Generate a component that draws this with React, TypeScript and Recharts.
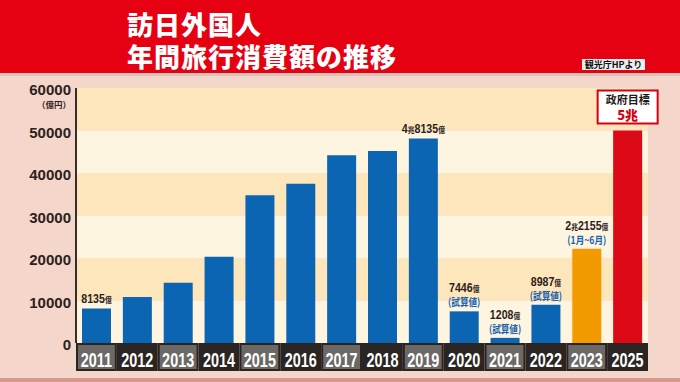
import React from 'react';
import { ComposedChart, Bar, XAxis, YAxis, ReferenceArea, Cell } from 'recharts';

// ---- data ----
const years = ['2011', '2012', '2013', '2014', '2015', '2016', '2017', '2018', '2019', '2020', '2021', '2022', '2023', '2025'];
const spending = [8135, 10846, 14167, 20278, 34771, 37476, 44162, 45189, 48135, 7446, 1208, 8987, 22155, 50000];
const valueLabels = ['8135億', '', '', '', '', '', '', '', '4兆8135億', '7446億', '1208億', '8987億', '2兆2155億', ''];
const noteLabels = ['', '', '', '', '', '', '', '', '', '(試算値)', '(試算値)', '(試算値)', '(1月~6月)', ''];
const yTicks = [0, 10000, 20000, 30000, 40000, 50000, 60000];
const yUnit = '（億円）';
const goalTitle = '政府目標';
const goalValue = '5兆';
const titleLines = ['訪日外国人', '年間旅行消費額の推移'];
const sourceText = '観光庁HPより';

const data = years.map((year, i) => ({ year, value: spending[i] }));

// ---- layout ----
const W = 680;
const H = 382;
const PLOT_LEFT = 76;
const PLOT_RIGHT = 648;
const PLOT_TOP = 88;
const CJK = "'Noto Sans CJK JP', 'Noto Sans', sans-serif";
const LAT = "'Liberation Sans', Arial, sans-serif";
const PLOT_BOTTOM = 343;

const barColor = (year: string) => (year === '2025' ? '#dc0a16' : year === '2023' ? '#f39a00' : '#0b65b3');

const YTick = (props: any) => {
  const { y, payload } = props;
  return (
    <g>
      <text x={71} y={y + 7} textAnchor="end" fontFamily={LAT} fontWeight={700} fontSize={15} fill="#2b2220">
        {payload.value}
      </text>
      {payload.value === yTicks[yTicks.length - 1] && (
        <text x={71} y={y + 20} textAnchor="end" fontFamily={CJK} fontWeight={700} fontSize={8.5} fill="#2b2220">
          {yUnit}
        </text>
      )}
    </g>
  );
};

const XTick = (props: any) => {
  const { x, payload } = props;
  const idx = props.index ?? payload.index ?? years.indexOf(payload.value);
  const bw = (PLOT_RIGHT - PLOT_LEFT) / years.length;
  const left = x - bw / 2;
  return (
    <g>
      <rect x={left} y={PLOT_BOTTOM} width={bw} height={28} fill="#2a2522" />
      {idx % 2 === 0 && <rect x={left + 2} y={PLOT_BOTTOM + 2} width={bw - 4} height={24} fill="#6b6866" />}
      <text
        transform={`translate(${x},${366.5}) scale(0.74,1)`}
        textAnchor="middle"
        fill="#ffffff"
        fontSize={19.5}
        fontWeight={700}
        fontFamily={LAT}
      >
        {payload.value}
      </text>
    </g>
  );
};

const renderLabel = (p: any) => {
  const idx = p.index ?? spending.indexOf(p.value);
  const cx = p.x + p.width / 2;
  const top = p.y;
  if (years[idx] === '2025') {
    return (
      <g>
        <rect x={cx - 30} y={top - 40} width={60} height={33} fill="#ffffff" stroke="#d7000f" strokeWidth={2} />
        <text x={cx} y={top - 26.5} textAnchor="middle" fontFamily={CJK} fontWeight={700} fontSize={11} fill="#1f1a18">
          {goalTitle}
        </text>
        <text x={cx} y={top - 10.5} textAnchor="middle" fontFamily={CJK} fontWeight={900} fontSize={13} fill="#d7000f">
          {goalValue}
        </text>
      </g>
    );
  }
  const main = valueLabels[idx];
  const note = noteLabels[idx];
  if (!main) return <g />;
  const mainY = note ? top - 19 : top - 5;
  const parts = main.split(/([兆億])/).filter((s) => s.length > 0);
  return (
    <g>
      <text
        transform={`translate(${cx},${mainY}) scale(0.85,1)`}
        textAnchor="middle"
        fill="#2b2220"
        fontFamily={LAT}
        fontWeight={700}
      >
        {parts.map((s, i) =>
          /[兆億]/.test(s) ? (
            <tspan key={i} fontSize={8} fontFamily={CJK}>
              {s}
            </tspan>
          ) : (
            <tspan key={i} fontSize={12.5}>
              {s}
            </tspan>
          )
        )}
      </text>
      {note && (
        <text
          transform={`translate(${cx},${top - 5}) scale(0.82,1)`}
          textAnchor="middle"
          fill="#1a62ad"
          fontFamily={CJK}
          fontWeight={700}
          fontSize={10.5}
        >
          {note}
        </text>
      )}
    </g>
  );
};

export default function App() {
  const bands = yTicks.slice(0, -1).map((v, i) => ({ y1: v, y2: yTicks[i + 1], dark: i % 2 === 1 }));
  return (
    <div style={{ position: 'absolute', left: 0, top: 0, width: W, height: H, background: '#f5d6ca', overflow: 'hidden' }}>
      <div style={{ position: 'absolute', left: 0, top: 0, width: W, height: 73, background: '#e50012' }} />
      <div style={{ position: 'absolute', left: 0, top: 73, width: W, height: 3, background: '#d6c4bd' }} />
      <div style={{ position: 'absolute', left: 0, top: 378, width: W, height: 4, background: '#d9988c' }} />
      {titleLines.map((t, i) => (
        <div
          key={i}
          style={{
            position: 'absolute',
            left: 127,
            top: i === 0 ? 11 : 43,
            fontFamily: CJK,
            fontWeight: 900,
            fontSize: 26,
            lineHeight: '26px',
            height: 26,
            letterSpacing: 1,
            color: '#ffffff',
            whiteSpace: 'nowrap',
          }}
        >
          {t}
        </div>
      ))}
      <div
        style={{
          position: 'absolute',
          left: 582,
          top: 59,
          width: 63,
          height: 11,
          background: '#eeeeee',
          fontFamily: CJK,
          fontWeight: 700,
          fontSize: 9,
          lineHeight: '11px',
          color: '#111',
          textAlign: 'center',
          whiteSpace: 'nowrap',
        }}
      >
        {sourceText}
      </div>
      <div style={{ position: 'absolute', left: 0, top: 0 }}>
        <ComposedChart width={W} height={H} data={data} margin={{ top: PLOT_TOP, right: W - PLOT_RIGHT, bottom: 11, left: 0 }}>
          {bands.map((b, i) => (
            <ReferenceArea
              key={i}
              y1={b.y1}
              y2={b.y2}
              fill={b.dark ? '#fde6bb' : '#fef5e1'}
              fillOpacity={1}
              stroke="none"
              ifOverflow="visible"
            />
          ))}
          <XAxis dataKey="year" interval={0} tickLine={false} axisLine={false} height={28} tick={<XTick />} />
          <YAxis
            type="number"
            domain={[0, 60000]}
            ticks={yTicks}
            width={PLOT_LEFT}
            tickLine={false}
            axisLine={{ stroke: '#3a2d27', strokeWidth: 2 }}
            tick={<YTick />}
            interval={0}
          />
          <Bar dataKey="value" barSize={29} isAnimationActive={false} label={renderLabel}>
            {data.map((d, i) => (
              <Cell key={i} fill={barColor(d.year)} />
            ))}
          </Bar>
        </ComposedChart>
      </div>
    </div>
  );
}
